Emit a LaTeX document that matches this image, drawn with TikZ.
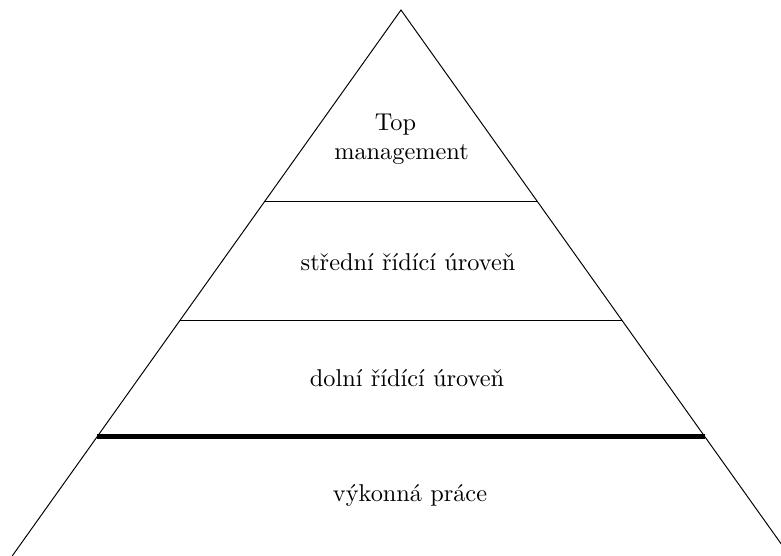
\documentclass[tikz,border=0pt]{standalone}
\usetikzlibrary{calc}
\begin{document}
\begin{tikzpicture}[x=0.411pt,y=-0.411pt,
  side/.style={line width=0.4pt},
  level/.style={line width=0.4pt},
  boundary/.style={line width=2pt},
  label/.style={inner sep=0pt,font=\normalsize}]
\useasboundingbox (0,0) rectangle (781,556);
% outline of the pyramid
\coordinate (apex) at (401,10);
\coordinate (bl) at (12.2,556);
\coordinate (br) at (789.8,556);
\draw[side] (bl) -- (apex) -- (br);
% level dividers
\coordinate (l1) at ($(apex)!0.3498!(bl)$);
\coordinate (r1) at ($(apex)!0.3498!(br)$);
\coordinate (l2) at ($(apex)!0.5678!(bl)$);
\coordinate (r2) at ($(apex)!0.5678!(br)$);
\coordinate (l3) at ($(apex)!0.7815!(bl)$);
\coordinate (r3) at ($(apex)!0.7815!(br)$);
\draw[level] (l1) -- (r1);
\draw[level] (l2) -- (r2);
\draw[boundary] (l3) -- (r3);
% level names
\node[label,align=center] (top) at (401.5,139.5) {Top\hspace*{5pt}\\management};
\node[label,anchor=base] (mid) at (408,270) {střední řídící úroveň};
\node[label,anchor=base] (low) at (407,386.7) {dolní řídící úroveň};
\node[label,anchor=base] (work) at (410,501.7) {výkonná práce};
\end{tikzpicture}
\end{document}
